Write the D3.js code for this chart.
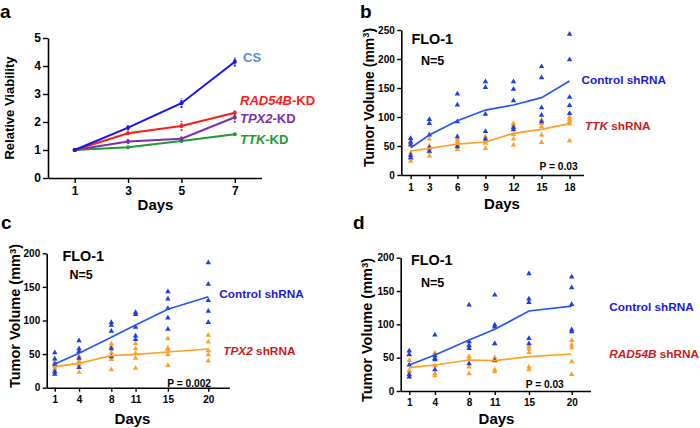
<!DOCTYPE html>
<html>
<head>
<meta charset="utf-8">
<script src="https://cdn.jsdelivr.net/npm/d3@7"></script>
<style>
  html, body { margin: 0; padding: 0; background: #fff; }
  svg { display: block; }
  text { font-family: 'Liberation Sans', Arial, Helvetica, sans-serif; font-weight: bold; }
</style>
</head>
<body>
<svg id="chart" width="700" height="428"></svg>
<script>
// ---------------- Panel a data ----------------
const daysA = [1, 3, 5, 7];
const viabCS = [1.0, 1.80, 2.67, 4.15];
const viabRAD54B = [1.0, 1.60, 1.86, 2.33];
const viabTPX2 = [1.0, 1.30, 1.40, 2.17];
const viabTTK = [1.0, 1.10, 1.32, 1.56];
const errCS = [0.06, 0.10, 0.17, 0.17];
const errRAD54B = [0.04, 0.06, 0.18, 0.08];
const errTPX2 = [0.04, 0.09, 0.08, 0.20];
const errTTK = [0.04, 0.05, 0.05, 0.04];
const ticksAY = [0, 1, 2, 3, 4, 5];

// ---------------- Panel b data (TTK) ----------------
const daysB = [1, 3, 6, 9, 12, 15, 18];
const ctrlMeanB = [47, 69, 93.7, 112, 120.7, 133.3, 162];
const ttkMeanB = [41.4, 46, 53.4, 56.9, 71.8, 78.7, 88.5];
const ctrlPtsB = [[63, 57, 52, 34, 30], [96, 89, 69, 47, 41], [140, 121, 92, 66, 49], [161, 151, 105, 75, 62], [161, 148, 128, 82, 78], [187, 168, 116, 103, 92], [243, 199, 134, 120, 106]];
const ttkPtsB = [[62, 55, 38, 29, 24], [62, 50, 45, 40, 33], [62, 58, 53, 50, 44], [66, 62, 58, 55, 46], [89, 85, 70, 62, 52], [95, 89, 83, 69, 56], [100, 96, 92, 88, 59]];
const ticksBY = [0, 50, 100, 150, 200, 250];

// ---------------- Panel c data (TPX2) ----------------
const daysC = [1, 4, 8, 11, 15, 20];
const ctrlMeanC = [35.3, 51.2, 75, 93.3, 116.7, 135.4];
const tpx2MeanC = [31.3, 36.3, 47.6, 49.6, 53.1, 57.6];
const ctrlPtsC = [[52, 43, 35, 24, 20], [70, 58, 54, 44, 30], [97, 93, 84, 58, 46], [112, 109, 90, 77, 72], [143, 132, 118, 104, 87], [186, 154, 130, 114, 97]];
const tpx2PtsC = [[38, 35, 32, 28, 24], [47, 40, 37, 34, 23], [65, 61, 52, 42, 27], [66, 58, 51, 44, 29], [73, 59, 57, 49, 33], [78, 68, 55, 49, 40]];
const ticksCY = [0, 50, 100, 150, 200];

// ---------------- Panel d data (RAD54B) ----------------
const daysD = [1, 4, 8, 11, 15, 20];
const ctrlMeanD = [39, 54, 76.5, 92.5, 120, 127.4];
const radMeanD = [35, 39, 46.5, 45.5, 51.5, 55.5];
const ctrlPtsD = [[60, 55, 39, 25, 21], [84, 53, 49, 47, 32], [129, 74, 68, 64, 41], [144, 99, 96, 71, 46], [176, 138, 133, 79, 71], [171, 155, 130, 92, 89]];
const radPtsD = [[54, 46, 31, 29, 21], [57, 53, 38, 26, 23], [69, 52, 48, 36, 26], [71, 50, 45, 32, 29], [67, 63, 58, 36, 32], [76, 69, 65, 44, 25]];
const ticksDY = [0, 50, 100, 150, 200];

// ---------------- styles ----------------
const BLUE_LINE = "#2755f4";
const BLUE_PT = "#1d3ee6";
const ORANGE = "#ffa026";
const CTRL_LABEL = "#1a1ad6";
const KD_LABEL = "#cc1a1a";

const svg = d3.select("#chart");

function styleAxis(g, fontSize) {
  g.selectAll("path.domain").attr("stroke", "#000").attr("stroke-width", 1.6);
  g.selectAll(".tick line").attr("stroke", "#000").attr("stroke-width", 1.4);
  g.selectAll(".tick text")
    .attr("fill", "#000")
    .style("font-size", fontSize + "px")
    .style("font-weight", "bold")
    .style("font-family", "'Liberation Sans', Arial, sans-serif");
}

function drawAxes(x, y, xTicks, yTicks, fontSize, xTickSize, xPad, yTickSize, yPad) {
  const fmt = d3.format("d");
  const gx = svg.append("g")
    .attr("transform", `translate(0,${y.range()[0]})`)
    .call(d3.axisBottom(x).tickValues(xTicks).tickFormat(fmt).tickSize(xTickSize).tickPadding(xPad).tickSizeOuter(0));
  styleAxis(gx, fontSize);
  const gy = svg.append("g")
    .attr("transform", `translate(${x.range()[0]},0)`)
    .call(d3.axisLeft(y).tickValues(yTicks).tickFormat(fmt).tickSize(yTickSize).tickPadding(yPad).tickSizeOuter(0));
  styleAxis(gy, fontSize);
}

function yTitle(cx, cy, size, parts) {
  const t = svg.append("text")
    .attr("transform", `translate(${cx},${cy}) rotate(-90)`)
    .attr("text-anchor", "middle")
    .attr("dy", "0.36em")
    .style("font-size", size + "px")
    .attr("fill", "#000");
  parts(t);
}

function label(x, y, size, fill, txt, anchor) {
  return svg.append("text").attr("x", x).attr("y", y)
    .attr("text-anchor", anchor || "start")
    .style("font-size", size + "px").attr("fill", fill).text(txt);
}

function volumeTitle(t) {
  t.append("tspan").text("Tumor Volume (mm");
  t.append("tspan").attr("dy", "-0.45em").style("font-size", "0.65em").text("3");
  t.append("tspan").attr("dy", "0.3em").text(")");
}

// ================= Panel a =================
{
  const x = d3.scaleLinear().domain([0, 8]).range([48, 261.5]);
  const y = d3.scaleLinear().domain([0, 5]).range([178, 38]);
  drawAxes(x, y, daysA, ticksAY, 12, 5, 3, 5, 2);

  const series = [
    { v: viabTTK, e: errTTK, c: "#1f9a2e" },
    { v: viabTPX2, e: errTPX2, c: "#7b2fae" },
    { v: viabRAD54B, e: errRAD54B, c: "#ff1a1a" },
    { v: viabCS, e: errCS, c: "#1414f0" }
  ];
  const line = d3.line().x((d, i) => x(daysA[i])).y(d => y(d));
  series.forEach(s => {
    svg.append("path").datum(s.v).attr("d", line)
      .attr("fill", "none").attr("stroke", s.c).attr("stroke-width", 2);
    const g = svg.append("g");
    g.selectAll("line").data(s.v).join("line")
      .attr("x1", (d, i) => x(daysA[i])).attr("x2", (d, i) => x(daysA[i]))
      .attr("y1", (d, i) => y(d - s.e[i])).attr("y2", (d, i) => y(d + s.e[i]))
      .attr("stroke", s.c).attr("stroke-width", 1.8).attr("stroke-dasharray", "2,1");
    g.selectAll("circle").data(s.v).join("circle")
      .attr("cx", (d, i) => x(daysA[i])).attr("cy", d => y(d)).attr("r", 2).attr("fill", s.c);
  });

  yTitle(9, 108, 13, t => t.text("Relative Viability"));
  label(155.5, 210, 15, "#000", "Days", "middle");

  label(243, 61.5, 13, "#5b8ed6", "CS");
  const r = label(240, 105, 13, "#ff1a1a", "");
  r.append("tspan").style("font-style", "italic").text("RAD54B");
  r.append("tspan").text("-KD");
  const p = label(240, 123, 13, "#7b2fae", "");
  p.append("tspan").style("font-style", "italic").text("TPX2");
  p.append("tspan").text("-KD");
  const k = label(240, 144, 13, "#1f9a2e", "");
  k.append("tspan").style("font-style", "italic").text("TTK");
  k.append("tspan").text("-KD");
}

// ============ shared tumor panel drawer ============
function tumorPanel(cfg) {
  const x = d3.scaleLinear().domain(cfg.xDomain).range(cfg.xRange);
  const y = d3.scaleLinear().domain(cfg.yDomain).range(cfg.yRange);
  drawAxes(x, y, cfg.days, cfg.yTicks, 10, 4, cfg.xPad, 4, 2.5);

  const tri = d3.symbol().type(d3.symbolTriangle).size(13);
  const drawPts = (pts, color) => {
    const flat = [];
    pts.forEach((arr, i) => arr.forEach(v => flat.push({ d: cfg.days[i], v })));
    svg.append("g").selectAll("path").data(flat).join("path")
      .attr("d", tri)
      .attr("transform", p => `translate(${x(p.d)},${y(p.v)})`)
      .attr("fill", color);
  };
  drawPts(cfg.kdPts, ORANGE);
  drawPts(cfg.ctrlPts, BLUE_PT);

  const line = d3.line().x((d, i) => x(cfg.days[i])).y(d => y(d));
  svg.append("path").datum(cfg.kdMean).attr("d", line)
    .attr("fill", "none").attr("stroke", ORANGE).attr("stroke-width", 1.7);
  svg.append("path").datum(cfg.ctrlMean).attr("d", line)
    .attr("fill", "none").attr("stroke", BLUE_LINE).attr("stroke-width", 1.7);

  yTitle(cfg.yTitleX, cfg.yTitleY, cfg.yTitleSize, volumeTitle);
  label(cfg.daysX, cfg.daysY, 15, "#000", "Days", "middle");
  label(cfg.floX, cfg.floY, 14.4, "#000", "FLO-1");
  label(cfg.nX, cfg.nY, 12.5, "#000", "N=5");
  label(cfg.pX, cfg.pY, 10.2, "#000", cfg.pText);
  label(cfg.ctrlX, cfg.ctrlY, 11.8, CTRL_LABEL, "Control shRNA");
  const kd = label(cfg.kdX, cfg.kdY, 11.8, KD_LABEL, "");
  kd.append("tspan").style("font-style", "italic").text(cfg.kdName);
  kd.append("tspan").text(" shRNA");
}

// ================= Panel b =================
tumorPanel({
  days: daysB, yTicks: ticksBY,
  xDomain: [0, 19.5], xRange: [401.3, 583.6],
  yDomain: [0, 250], yRange: [175, 30], xPad: 5,
  ctrlMean: ctrlMeanB, kdMean: ttkMeanB, ctrlPts: ctrlPtsB, kdPts: ttkPtsB,
  yTitleX: 368.5, yTitleY: 97.5, yTitleSize: 14,
  daysX: 502, daysY: 209,
  floX: 411.5, floY: 44, nX: 421, nY: 65,
  pX: 539.5, pY: 170, pText: "P = 0.03",
  ctrlX: 581.5, ctrlY: 84, kdX: 585, kdY: 130, kdName: "TTK"
});

// ================= Panel c =================
tumorPanel({
  days: daysC, yTicks: ticksCY,
  xDomain: [0, 22.6], xRange: [46.7, 229.3],
  yDomain: [0, 200], yRange: [387.7, 253.3], xPad: 4,
  ctrlMean: ctrlMeanC, kdMean: tpx2MeanC, ctrlPts: ctrlPtsC, kdPts: tpx2PtsC,
  yTitleX: 15, yTitleY: 316, yTitleSize: 14.5,
  daysX: 132.5, daysY: 424,
  floX: 62.5, floY: 261, nX: 69.5, nY: 278.5,
  pX: 167.3, pY: 386.5, pText: "P = 0.002",
  ctrlX: 219.3, ctrlY: 298, kdX: 223.3, kdY: 355, kdName: "TPX2"
});

// ================= Panel d =================
tumorPanel({
  days: daysD, yTicks: ticksDY,
  xDomain: [0, 22.2], xRange: [400.7, 590.5],
  yDomain: [0, 200], yRange: [391, 257.7], xPad: 4,
  ctrlMean: ctrlMeanD, kdMean: radMeanD, ctrlPts: ctrlPtsD, kdPts: radPtsD,
  yTitleX: 366.7, yTitleY: 330, yTitleSize: 14.5,
  daysX: 496.5, daysY: 424,
  floX: 411, floY: 265, nX: 421, nY: 286.7,
  pX: 525.7, pY: 388, pText: "P = 0.03",
  ctrlX: 609.3, ctrlY: 311, kdX: 609.3, kdY: 358, kdName: "RAD54B"
});

// ================= panel letters =================
label(0, 17.5, 19, "#000", "a");
label(360, 17.5, 19, "#000", "b");
label(1, 228.5, 19, "#000", "c");
label(353, 228.5, 19, "#000", "d");
</script>
</body>
</html>
